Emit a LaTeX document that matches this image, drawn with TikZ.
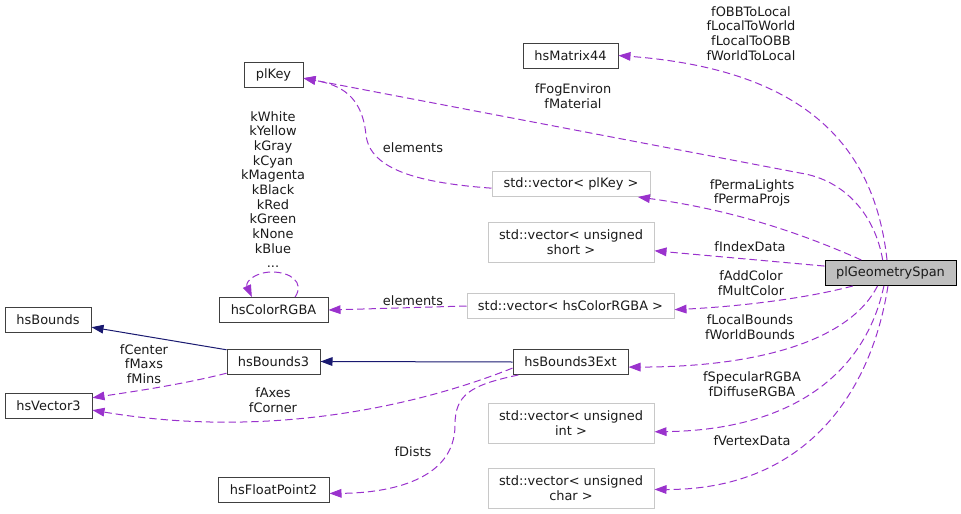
\documentclass[tikz,border=0pt]{standalone}
\usepackage{fontspec}
\setmainfont{DejaVu Sans}
\usepackage{xcolor}
\usepackage{tikz}
\usetikzlibrary{arrows.meta}
\definecolor{member}{HTML}{9A32CD}
\definecolor{inherit}{HTML}{191970}
\definecolor{boxline}{HTML}{404040}
\definecolor{vecline}{HTML}{C8C8C8}
\definecolor{focusfill}{HTML}{BFBFBF}
\definecolor{txt}{HTML}{1A1A1A}
\newcommand{\doxyfont}{\fontsize{9.7}{11}\selectfont}

\tikzset{
  cls/.style={draw=boxline, line width=0.75pt, minimum height=18.75pt,
              inner sep=0pt, font=\doxyfont, text=txt, align=center},
  vec/.style={cls, draw=vecline},
  lbl/.style={font=\doxyfont, text=txt, align=center, inner sep=0pt},
  mem/.style={draw=member, line width=0.75pt, dash pattern=on 5.5pt off 3pt,
              -{Triangle[length=9pt, width=6.5pt]}},
  inh/.style={draw=inherit, line width=0.75pt,
              -{Triangle[length=9pt, width=6.5pt]}}
}

\begin{document}
\begin{tikzpicture}[x=0.75pt, y=-0.75pt]
      \useasboundingbox (0,0) rectangle (961,514);

      % Focus class (right)
      \node[cls, draw=black, fill=focusfill, minimum width=98.25pt]
        (geo) at (890.5,273) {plGeometrySpan};

      % Middle column
      \node[cls, minimum width=71.25pt] (mat) at (570.5,55.5) {hsMatrix44};
      \node[vec, minimum width=118.5pt] (vkey) at (571,184) {std::vector< plKey >};
      \node[vec, minimum width=155.25pt] (vcol) at (570.5,306) {std::vector< hsColorRGBA >};
      \node[cls, minimum width=86.25pt] (b3ext) at (570.5,362) {hsBounds3Ext};
      \foreach \nm/\ty/\yy in {vshort/short/242, vint/int/423, vchar/char/488} {
        \node[vec, minimum width=124.5pt, minimum height=30pt]
          (\nm) at (571,\yy) {std::vector< unsigned\\\ty{} >};
      }

      % Left columns
      \node[cls, minimum width=44.25pt] (key) at (273.5,74.5) {plKey};
      \node[cls, minimum width=81.75pt] (col) at (273.5,310) {hsColorRGBA};
      \node[cls, minimum width=69.75pt] (b3) at (273.5,361.5) {hsBounds3};
      \node[cls, minimum width=83.25pt] (fp2) at (273.5,489.5) {hsFloatPoint2};
      \node[cls, minimum width=64.5pt] (bnd) at (48,319.5) {hsBounds};
      \node[cls, minimum width=65.25pt] (v3) at (48.5,405.5) {hsVector3};

      % Inheritance
      \draw[inh] (b3.166) -- (bnd.350);
      \draw[inh] (b3ext.west) -- (b3.east);

      % Members of plGeometrySpan
      \draw[mem] (geo.105) .. controls (875,150) and (810,70) .. (mat.east);
      \draw[mem] (geo.121) .. controls (875,215) and (845,180) .. (800,173)
        -- (key.353);
      \draw[mem] (geo.156) .. controls (790,228) and (720,208) .. (vkey.349);
      \draw[mem] (geo.174) -- (vshort.354);
      \draw[mem] (geo.199) .. controls (800,300) and (730,307) .. (vcol.358);
      \draw[mem] (geo.225) .. controls (850,340) and (760,367) .. (b3ext.355);
      \draw[mem] (geo.243) .. controls (865,375) and (790,430) .. (vint.354);
      \draw[mem] (geo.259) .. controls (870,400) and (800,490) .. (vchar.359);

      % Other members
      \draw[mem] (vkey.183) .. controls (420,183) and (370,170) .. (366,135)
        .. controls (362,95) and (340,85) .. (key.353);
      \draw[mem] (vcol.west) -- (col.east);
      \draw[mem] (col.31) .. controls (305,282) and (290,272) .. (272,272)
        .. controls (255,272) and (245,282) .. (col.149);
      \draw[mem] (b3.194) .. controls (180,385) and (130,392) .. (v3.10);
      \draw[mem] (b3ext.186) .. controls (420,405) and (270,440) .. (v3.354);
      \draw[mem] (b3ext.194) .. controls (470,385) and (455,395) .. (455,425)
        .. controls (455,480) and (390,493) .. (fp2.356);

      % Edge labels
      \node[lbl] (lmat) at (751,33.5) {fOBBToLocal\\fLocalToWorld\\fLocalToOBB\\fWorldToLocal};
      \node[lbl] (lfog) at (573,96) {fFogEnviron\\fMaterial};
      \node[lbl] (lperma) at (752,193) {fPermaLights\\fPermaProjs};
      \node[lbl] (lidx) at (750,247) {fIndexData};
      \node[lbl] (lcolor) at (751,283.5) {fAddColor\\fMultColor};
      \node[lbl] (lbnds) at (750,327.5) {fLocalBounds\\fWorldBounds};
      \node[lbl] (lrgba) at (752,384) {fSpecularRGBA\\fDiffuseRGBA};
      \node[lbl] (lvtx) at (752,441) {fVertexData};
      \node[lbl] (lelk) at (413,148) {elements};
      \node[lbl] (lelc) at (413,301) {elements};
      \node[lbl] (lkcol) at (273,189.5)
        {kWhite\\kYellow\\kGray\\kCyan\\kMagenta\\kBlack\\kRed\\kGreen\\kNone\\kBlue\\...};
      \node[lbl] (lctr) at (144,364) {fCenter\\fMaxs\\fMins};
      \node[lbl] (laxes) at (273,400) {fAxes\\fCorner};
      \node[lbl] (ldist) at (413,452) {fDists};
\end{tikzpicture}
\end{document}
